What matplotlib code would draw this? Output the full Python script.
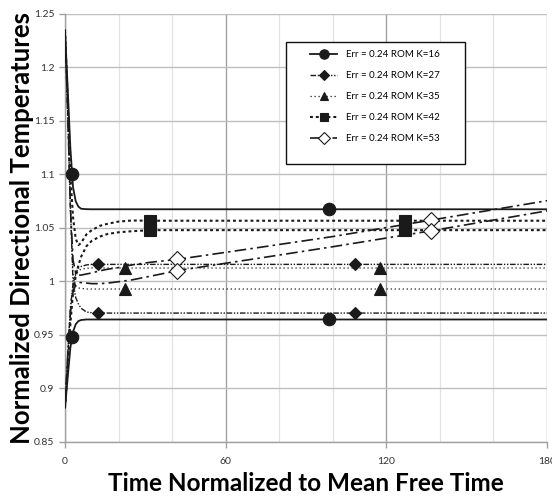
import matplotlib
matplotlib.use('Agg')
import matplotlib.pyplot as plt
from matplotlib.patches import Rectangle
from matplotlib.ticker import MultipleLocator

plt.rcParams['font.family'] = ['Lato', 'DejaVu Sans']

# time axis shared by all curves (normalized to mean free time)
time = [0, 1, 2, 3, 4, 5, 6, 8, 10, 13, 16, 20, 25, 32, 42, 73, 100, 137, 180]

# two directional temperatures per ROM order K
k16_hi = [1.235, 1.181, 1.125, 1.088, 1.075, 1.070, 1.068, 1.0676, 1.0675, 1.0675, 1.0675, 1.0675, 1.0675,
          1.0675, 1.0675, 1.0675, 1.0675, 1.0675, 1.0675]
k16_lo = [0.882, 0.910, 0.938, 0.953, 0.960, 0.963, 0.964, 0.9645, 0.9645, 0.9645, 0.9645, 0.9645, 0.9645,
          0.9645, 0.9645, 0.9645, 0.9645, 0.9645, 0.9645]
k27_hi = [0.882, 0.930, 0.975, 0.998, 1.008, 1.0125, 1.014, 1.0155, 1.016, 1.016, 1.016, 1.016, 1.016,
          1.016, 1.016, 1.016, 1.016, 1.016, 1.016]
k27_lo = [1.235, 1.160, 1.070, 1.000, 0.985, 0.979, 0.975, 0.9715, 0.9708, 0.9705, 0.9705, 0.9705, 0.9705,
          0.9705, 0.9705, 0.9705, 0.9705, 0.9705, 0.9705]
k35_hi = [0.882, 0.930, 0.975, 0.997, 1.006, 1.010, 1.0115, 1.0124, 1.0126, 1.0126, 1.0126, 1.0126, 1.0126,
          1.0126, 1.0126, 1.0126, 1.0126, 1.0126, 1.0126]
k35_lo = [1.235, 1.160, 1.070, 1.005, 0.996, 0.994, 0.9935, 0.993, 0.993, 0.993, 0.993, 0.993, 0.993,
          0.993, 0.993, 0.993, 0.993, 0.993, 0.993]
k42_hi = [1.235, 1.170, 1.100, 1.060, 1.040, 1.034, 1.036, 1.044, 1.048, 1.052, 1.054, 1.056, 1.057,
          1.0568, 1.0568, 1.0568, 1.0568, 1.0568, 1.0568]
k42_lo = [0.882, 0.920, 0.960, 0.990, 1.005, 1.015, 1.023, 1.033, 1.038, 1.042, 1.0445, 1.046, 1.047,
          1.048, 1.048, 1.048, 1.048, 1.048, 1.048]
k53_hi = [1.235, 1.160, 1.070, 1.020, 1.008, 1.006, 1.006, 1.007, 1.008, 1.010, 1.0115, 1.013, 1.0155,
          1.018, 1.0207, 1.032, 1.042, 1.0575, 1.0755]
k53_lo = [0.882, 0.930, 0.970, 0.990, 0.997, 0.999, 0.999, 0.9985, 0.998, 0.998, 0.9985, 0.9998, 1.0015,
          1.005, 1.0102, 1.022, 1.0325, 1.0475, 1.066]

# marker positions (Excel puts markers on a subset of points)
k16_mt = [2.6, 98.7]
k16_mhi = [1.10, 1.0675]
k16_mlo = [0.948, 0.9645]
k27_mt = [12.4, 108.4]
k27_mhi = [1.016, 1.016]
k27_mlo = [0.9705, 0.9705]
k35_mt = [22.4, 117.8]
k35_mhi = [1.0126, 1.0126]
k35_mlo = [0.993, 0.993]
k42_mt = [31.8, 127.0]
k42_mhi = [1.0568, 1.0568]
k42_mlo = [1.048, 1.048]
k53_mt = [41.8, 136.7]
k53_mhi = [1.0207, 1.0575]
k53_mlo = [1.0102, 1.0475]

labels = ['Err = 0.24 ROM K=16', 'Err = 0.24 ROM K=27', 'Err = 0.24 ROM K=35',
          'Err = 0.24 ROM K=42', 'Err = 0.24 ROM K=53']

ink = '#1a1a1a'
styles = [
    dict(ls='-', lw=1.3, marker='o', ms=9, mfc=ink),
    dict(dashes=(4, 1.2, 1, 1.2, 1, 1.2), lw=1.0, marker='D', ms=6.5, mfc=ink),
    dict(dashes=(1, 2.2), lw=0.9, marker='^', ms=8.5, mfc=ink),
    dict(dashes=(1.4, 1.4), lw=1.5, marker='s', ms=8, mfc=ink),
    dict(dashes=(7, 2.5, 1.5, 2.5), lw=1.2, marker='D', ms=8.5, mfc='white'),
]

series = [
    (k16_hi, k16_lo, k16_mt, k16_mhi, k16_mlo),
    (k27_hi, k27_lo, k27_mt, k27_mhi, k27_mlo),
    (k35_hi, k35_lo, k35_mt, k35_mhi, k35_mlo),
    (k42_hi, k42_lo, k42_mt, k42_mhi, k42_mlo),
    (k53_hi, k53_lo, k53_mt, k53_mhi, k53_mlo),
]

W, H = 552, 498
fig = plt.figure(figsize=(W / 100, H / 100), dpi=100)
ax = fig.add_axes([65 / W, 1 - 442 / H, 482 / W, 428 / H])

handles = []
for (hi, lo, mt, mhi, mlo), st, lab in zip(series, styles, labels):
    line_kw = {k: v for k, v in st.items() if k in ('ls', 'lw', 'dashes')}
    for vals in (hi, lo):
        ax.plot(time, vals, color=ink, zorder=3, **line_kw)
    mk = dict(marker=st['marker'], ms=st['ms'], mfc=st['mfc'], mec=ink, mew=0.8, ls='none', zorder=4)
    ax.plot(mt, mhi, **mk)
    ax.plot(mt, mlo, **mk)
    # legend proxy: line with marker in the middle
    h, = ax.plot([], [], color=ink, label=lab, marker=st['marker'], ms=st['ms'] * 0.75,
                 mfc=st['mfc'], mec=ink, mew=0.8, **line_kw)
    handles.append(h)

ax.set_xlim(0, 180)
ax.set_ylim(0.85, 1.25)
ax.xaxis.set_major_locator(MultipleLocator(60))
ax.xaxis.set_minor_locator(MultipleLocator(20))
ax.yaxis.set_major_locator(MultipleLocator(0.05))
ax.yaxis.set_major_formatter(plt.FuncFormatter(lambda v, p: f'{v:.2f}'.rstrip('0').rstrip('.')))

ax.grid(True, which='major', axis='y', color='#bfbfbf', lw=1.0)
ax.grid(True, which='major', axis='x', color='#a0a0a0', lw=1.0)
ax.grid(True, which='minor', axis='x', color='#e2e2e2', lw=0.9)
ax.set_axisbelow(True)

for side in ('top', 'right'):
    ax.spines[side].set_visible(False)
for side in ('left', 'bottom'):
    ax.spines[side].set_color('#a0a0a0')
    ax.spines[side].set_linewidth(1.0)
ax.tick_params(which='major', length=4, width=1.0, color='#a0a0a0', labelsize=7.5, labelcolor='#333333')
ax.tick_params(which='minor', length=0)
ax.tick_params(axis='x', pad=7)

ax.set_xlabel('Time Normalized to Mean Free Time', fontsize=17.5, fontweight='bold', labelpad=4)
ax.set_ylabel('Normalized Directional Temperatures', fontsize=18.5, fontweight='bold', labelpad=0)

# legend frame drawn separately (Excel-style uneven padding)
fig.patches.append(Rectangle((286 / W, 1 - 164 / H), 179 / W, 122 / H, transform=fig.transFigure,
                             facecolor='white', edgecolor='#111111', lw=1.0, zorder=5))
leg = fig.legend(handles=handles, loc='upper left', bbox_to_anchor=(310 / W, 1 - 50 / H), fontsize=7,
                 frameon=False, borderpad=0, labelspacing=1.24, handlelength=2.8,
                 handletextpad=0.93, borderaxespad=0)
leg.set_zorder(6)

plt.savefig('out.png', dpi=100)
